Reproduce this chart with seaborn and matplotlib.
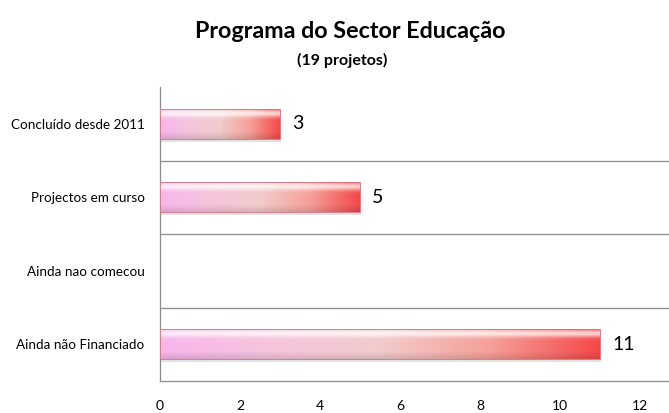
import matplotlib
matplotlib.use("Agg")
import matplotlib.pyplot as plt
import numpy as np
import pandas as pd
import seaborn as sns
from matplotlib.colors import LinearSegmentedColormap

categories = ["Concluído desde 2011", "Projectos em curso", "Ainda nao comecou", "Ainda não Financiado"]
values = [3, 5, 0, 11]
xticks = [0, 2, 4, 6, 8, 10, 12]

df = pd.DataFrame({"categoria": categories, "projetos": values})

sns.set_style("white")
plt.rcParams["font.family"] = ["Lato", "DejaVu Sans"]
plt.rcParams["text.color"] = "black"
plt.rcParams["xtick.color"] = "black"
plt.rcParams["ytick.color"] = "black"

fig = plt.figure(figsize=(6.69, 4.13), dpi=100)
ax = fig.add_axes([160 / 669, 32 / 413, 509 / 669, 294 / 413])

sns.barplot(data=df, x="projetos", y="categoria", orient="h", ax=ax,
            width=0.41, color="#f46a6a", edgecolor="none")

# gradient fill: pink -> pale -> red, with a light band near the top
cmap = LinearSegmentedColormap.from_list(
    "pinkred", ["#f8b6ec", "#f6c4dc", "#f2cccc", "#f6a09a", "#f44848"])
ramp = np.linspace(0, 1, 256)
for p in list(ax.patches):
    w = p.get_width()
    if w <= 0:
        continue
    x0, y0, h = p.get_x(), p.get_y(), p.get_height()
    rgb = cmap(ramp)[:, :3]
    # vertical shading (y0 is top since axis inverted)
    vy = np.linspace(0, 1, 64)
    light = np.exp(-((vy - 0.17) / 0.12) ** 2) * 0.75
    dark = np.clip((vy - 0.75) / 0.25, 0, 1) * 0.12
    img = rgb[None, :, :] * (1 - light[:, None, None]) + light[:, None, None]
    img = img * (1 - dark[:, None, None])
    # shadow under the bar
    ax.add_patch(plt.Rectangle((x0 + 0.03, y0 + 0.04), w, h, color="#a0a0a0",
                               alpha=0.3, zorder=1, lw=0))
    im = ax.imshow(img, extent=(x0, x0 + w, y0 + h, y0), aspect="auto",
                   zorder=3, interpolation="bilinear")
    im.set_clip_path(p)
    ax.add_patch(plt.Rectangle((x0, y0), w, h, fill=False, edgecolor="#d07080",
                               lw=0.6, zorder=4))
    p.set_alpha(0)
    ax.text(x0 + w + 0.3, y0 + h / 2, f"{int(w)}", va="center", ha="left",
            fontsize=14, color="black")

ax.set_xlim(0, 12.725)
ax.set_ylim(3.5, -0.5)
ax.set_xticks(xticks)
ax.set_xticklabels([str(t) for t in xticks], fontsize=10)
ax.tick_params(axis="x", length=0, pad=14)
ax.tick_params(axis="y", length=0, pad=11, labelsize=9.7)
ax.set_xlabel("")
ax.set_ylabel("")
ax.hlines([0.5, 1.5, 2.5], 0, 12.725, color="#8c8c8c", lw=0.9, zorder=0)

for s in ["top", "right"]:
    ax.spines[s].set_visible(False)
ax.spines["left"].set_color("#8c8c8c")
ax.spines["bottom"].set_color("#8c8c8c")
ax.spines["left"].set_linewidth(0.9)
ax.spines["bottom"].set_linewidth(0.9)

fig.text(350 / 669, 1 - 32 / 413, "Programa do Sector Educação", ha="center",
         va="center", fontsize=16.8, fontweight="bold", color="black")
fig.text(342 / 669, 1 - 60 / 413, "(19 projetos)", ha="center", va="center",
         fontsize=11.5, fontweight="bold", color="black")

fig.savefig("out.png", dpi=100)
